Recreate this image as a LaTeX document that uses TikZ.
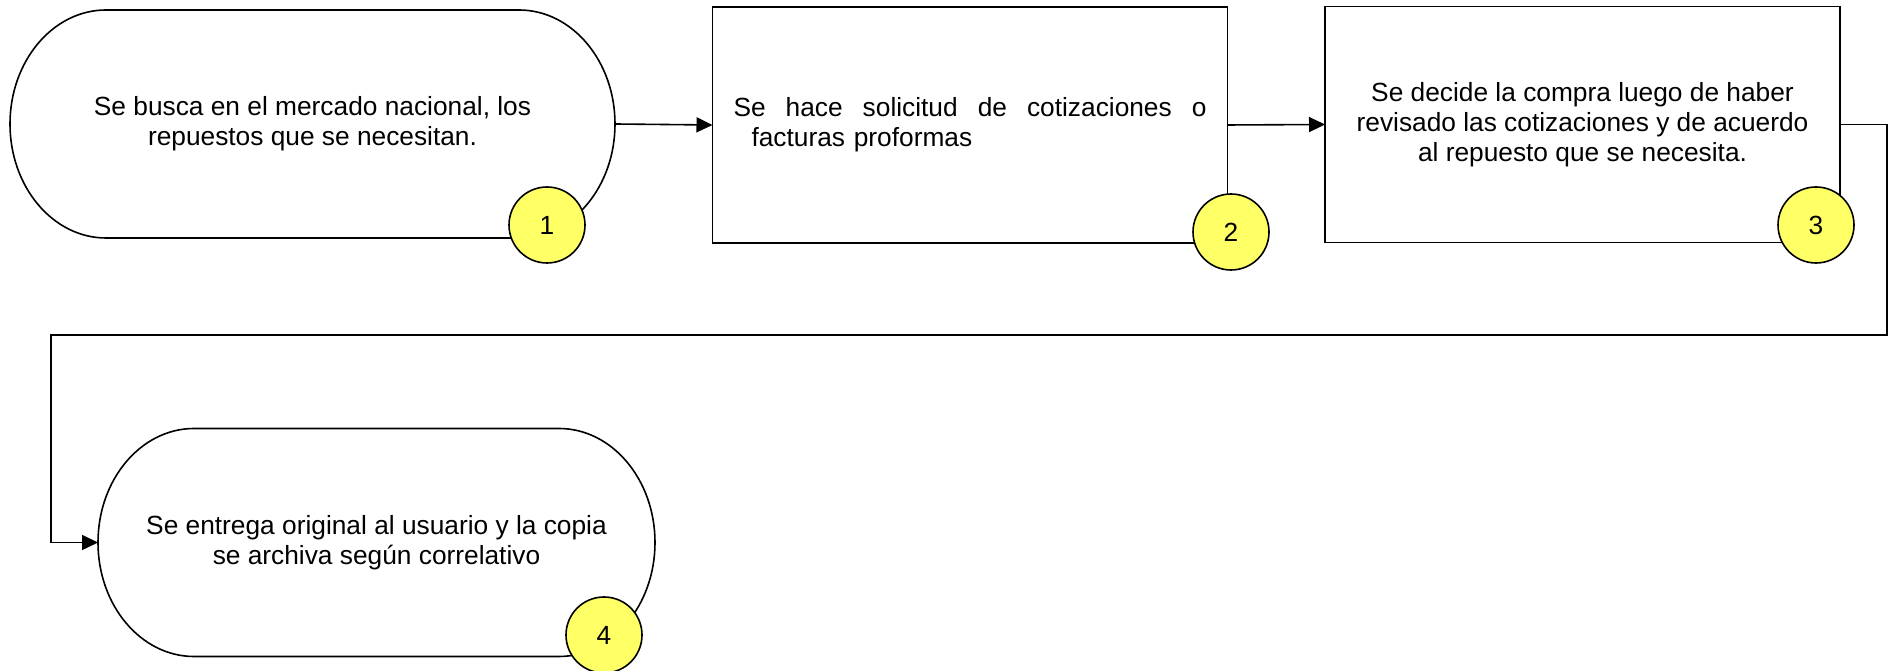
\documentclass[tikz,border=0pt]{standalone}
\usepackage{fontspec}
\setmainfont{Liberation Sans}
\usetikzlibrary{arrows.meta}
\definecolor{badgefill}{HTML}{FFFF66}
\tikzset{
  term/.style={minimum width=#1, minimum height=228pt, inner sep=0pt, outer sep=0pt, align=center},
  stepbox/.style={draw, line width=1.6pt, minimum width=515pt, minimum height=236pt, inner sep=0pt, outer sep=0pt},
  badge/.style={circle, draw, fill=badgefill, line width=1.6pt, minimum size=76pt, inner sep=0pt},
  flow/.style={line width=1.6pt, -{Triangle[length=16pt,width=15pt]}}
}
\begin{document}
\begin{tikzpicture}[x=1pt, y=1pt, font=\fontsize{26.3pt}{30pt}\selectfont]
  \useasboundingbox (0,0) rectangle (1893,671);

  \node [term=605pt] (t1) at (312.5,547) {Se busca en el mercado nacional, los\\repuestos que se necesitan.};
  \node [stepbox, text width=473pt, align=left] (b2) at (970,546)
    {\hbox to 473pt{Se\hfill hace\hfill solicitud\hfill de\hfill cotizaciones\hfill o}\\\hspace*{18pt}facturas proformas};
  \node [stepbox, align=center] (b3) at (1582.5,546.5)
    {Se decide la compra luego de haber\\revisado las cotizaciones y de acuerdo\\al repuesto que se necesita.};
  \node [term=557pt] (t4) at (376.5,128.5) {Se entrega original al usuario y la copia\\se archiva según correlativo};

  \foreach \t in {t1,t4}
    \draw [line width=1.6pt] ([xshift=96pt]\t.north west) -- ([xshift=-96pt]\t.north east)
      arc [start angle=90, end angle=-90, x radius=96pt, y radius=114pt]
      -- ([xshift=96pt]\t.south west)
      arc [start angle=270, end angle=90, x radius=96pt, y radius=114pt] -- cycle;

  \coordinate (rt) at (1887,336);
  \coordinate (lt) at (51,336);

  \draw [flow] (t1.east) -- (b2.west);
  \draw [flow] (b2.east) -- (b3.west);
  \draw [flow] (b3.east) -| (rt) -- (lt) |- (t4.west);

  \node [badge] (n1) at (547,446) {1};
  \node [badge] (n2) at (1231,439) {2};
  \node [badge] (n3) at (1816,446) {3};
  \node [badge] (n4) at (604,36) {4};
\end{tikzpicture}
\end{document}
